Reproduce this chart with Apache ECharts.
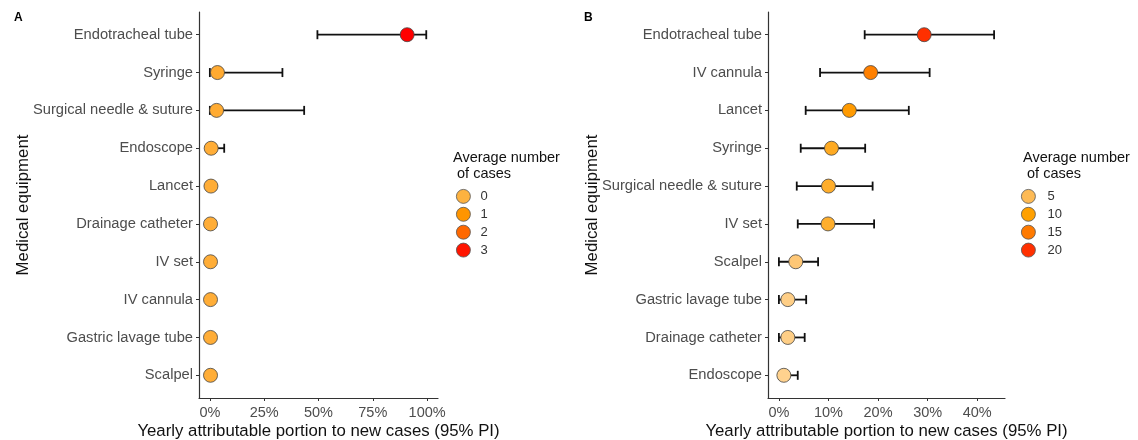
<!DOCTYPE html>
<html><head><meta charset="utf-8">
<script src="https://cdn.jsdelivr.net/npm/echarts@6/dist/echarts.min.js"></script>
<style>html,body{margin:0;padding:0;background:#fff}#c{width:1138px;height:440px}</style>
</head><body><div id="c"></div>
<script>
// Panel A data (percent of yearly new cases, 95% PI; average number of cases)
var catsA = ['Endotracheal tube','Syringe','Surgical needle & suture','Endoscope','Lancet','Drainage catheter','IV set','IV cannula','Gastric lavage tube','Scalpel'];
var estA  = [90.8, 3.5, 3.1, 0.6, 0.5, 0.3, 0.3, 0.3, 0.3, 0.3];
var lowA  = [49.5, 0, 0, 0, 0, 0, 0, 0, 0, 0];
var highA = [99.6, 33.4, 43.4, 6.6, 1.5, 1.0, 1.0, 1.0, 1.0, 0.8];
var casesA = [3.0, 0.12, 0.1, 0.02, 0.02, 0.01, 0.01, 0.01, 0.01, 0.01];
var ticksA = [0, 25, 50, 75, 100];
var legendA = ['0', '1', '2', '3'];

// Panel B data
var catsB = ['Endotracheal tube','IV cannula','Lancet','Syringe','Surgical needle & suture','IV set','Scalpel','Gastric lavage tube','Drainage catheter','Endoscope'];
var estB  = [29.3, 18.5, 14.2, 10.6, 10.0, 9.9, 3.4, 1.8, 1.8, 1.0];
var lowB  = [17.3, 8.3, 5.4, 4.4, 3.6, 3.8, 0, 0, 0, 0];
var highB = [43.4, 30.4, 26.2, 17.4, 18.9, 19.2, 7.9, 5.5, 5.2, 3.8];
var casesB = [22, 14, 10.7, 8, 7.5, 7.4, 2.6, 1.4, 1.4, 0.8];
var ticksB = [0, 10, 20, 30, 40];
var legendB = ['5', '10', '15', '20'];

var FONT = 'Liberation Sans, Arial, Helvetica, sans-serif';
var colorsA = ['#FFAD38', '#FF9400', '#FF6400', '#FF0000'];
var legColorsA = ['#FDB240', '#FF9500', '#FF6800', '#FF1500'];
var colorsB = ['#FFD699', '#FDBA55', '#FFA000', '#FF7800', '#FF3000'];
var legColorsB = ['#FDBA55', '#FFA000', '#FF7A00', '#FF3000'];

function errRender(params, api) {
  var lo = api.coord([api.value(0), api.value(2)]);
  var hi = api.coord([api.value(1), api.value(2)]);
  var h = 4.5;
  var st = {stroke: '#111', lineWidth: 1.8};
  return {type: 'group', children: [
    {type: 'line', shape: {x1: lo[0], y1: lo[1], x2: hi[0], y2: hi[1]}, style: st},
    {type: 'line', shape: {x1: lo[0], y1: lo[1] - h, x2: lo[0], y2: lo[1] + h}, style: st},
    {type: 'line', shape: {x1: hi[0], y1: hi[1] - h, x2: hi[0], y2: hi[1] + h}, style: st}
  ]};
}

function xAxisDef(idx, min, max, ticks) {
  return {
    type: 'value', gridIndex: idx, min: min, max: max,
    name: 'Yearly attributable portion to new cases (95% PI)',
    nameLocation: 'middle', nameGap: 25, nameMoveOverlap: false,
    nameTextStyle: {fontFamily: FONT, fontSize: 16.8, color: '#111'},
    axisLine: {show: true, onZero: false, lineStyle: {color: '#333', width: 1.2}},
    axisTick: {show: true, length: 3, customValues: ticks, lineStyle: {color: '#333'}},
    axisLabel: {customValues: ticks, formatter: function (v) { return v + '%'; },
      fontFamily: FONT, fontSize: 14.5, color: '#4d4d4d', margin: 7},
    splitLine: {show: false}
  };
}
function yAxisDef(idx, cats) {
  var vals = cats.map(function (c, i) { return i + 1; });
  return {
    type: 'value', gridIndex: idx, min: 0.4, max: 10.6, inverse: true,
    name: 'Medical equipment', nameLocation: 'middle', nameGap: 167, nameMoveOverlap: false,
    nameTextStyle: {fontFamily: FONT, fontSize: 16.8, color: '#111'},
    axisLine: {show: true, onZero: false, lineStyle: {color: '#333', width: 1.2}},
    axisTick: {show: true, length: 3, customValues: vals, lineStyle: {color: '#333'}},
    axisLabel: {customValues: vals, formatter: function (v) { return cats[Math.round(v) - 1]; },
      fontFamily: FONT, fontSize: 14.7, color: '#4d4d4d', margin: 6},
    splitLine: {show: false}
  };
}
function legendSeries(names, cols, gi) {
  return names.map(function (n, i) {
    return {type: 'scatter', name: n, xAxisIndex: gi, yAxisIndex: gi, data: [],
      itemStyle: {color: cols[i], borderColor: '#555', borderWidth: 0.8, opacity: 1}};
  });
}

var series = [
  {type: 'custom', xAxisIndex: 0, yAxisIndex: 0, renderItem: errRender, encode: {x: [0, 1], y: 2},
    data: lowA.map(function (l, i) { return [l, highA[i], i + 1]; }), z: 2},
  {type: 'scatter', name: 'pointsA', xAxisIndex: 0, yAxisIndex: 0, symbolSize: 14, z: 3,
    itemStyle: {borderColor: '#444', borderWidth: 0.8, opacity: 1},
    data: estA.map(function (e, i) { return [e, i + 1, casesA[i]]; })},
  {type: 'custom', xAxisIndex: 1, yAxisIndex: 1, renderItem: errRender, encode: {x: [0, 1], y: 2},
    data: lowB.map(function (l, i) { return [l, highB[i], i + 1]; }), z: 2},
  {type: 'scatter', name: 'pointsB', xAxisIndex: 1, yAxisIndex: 1, symbolSize: 14, z: 3,
    itemStyle: {borderColor: '#444', borderWidth: 0.8, opacity: 1},
    data: estB.map(function (e, i) { return [e, i + 1, casesB[i]]; })}
].concat(legendSeries(legendA, legColorsA, 0)).concat(legendSeries(legendB, legColorsB, 1));

var chart = echarts.init(document.getElementById('c'), null, {renderer: 'canvas'});
chart.setOption({
  animation: false,
  backgroundColor: '#fff',
  textStyle: {fontFamily: FONT},
  title: [
    {text: 'A', left: 14, top: 12, padding: 0, textStyle: {fontFamily: FONT, fontSize: 12, fontWeight: 'bold', color: '#000'}},
    {text: 'B', left: 584, top: 12, padding: 0, textStyle: {fontFamily: FONT, fontSize: 12, fontWeight: 'bold', color: '#000'}},
    {text: 'Average number\n of cases', left: 453, top: 150, padding: 0, textStyle: {fontFamily: FONT, fontSize: 14.5, fontWeight: 'normal', lineHeight: 16, color: '#111'}},
    {text: 'Average number\n of cases', left: 1023, top: 150, padding: 0, textStyle: {fontFamily: FONT, fontSize: 14.5, fontWeight: 'normal', lineHeight: 16, color: '#111'}}
  ],
  grid: [
    {left: 199, top: 12, width: 239, height: 386, outerBoundsMode: 'none', containLabel: false},
    {left: 768, top: 12, width: 237, height: 386, outerBoundsMode: 'none', containLabel: false}
  ],
  xAxis: [xAxisDef(0, -5, 105, ticksA), xAxisDef(1, -2.2, 45.6, ticksB)],
  yAxis: [yAxisDef(0, catsA), yAxisDef(1, catsB)],
  visualMap: [
    {type: 'continuous', show: false, seriesIndex: 1, dimension: 2, min: 0, max: 3,
      inRange: {color: colorsA}, outOfRange: {color: '#FF0000'}},
    {type: 'continuous', show: false, seriesIndex: 3, dimension: 2, min: 0, max: 20,
      inRange: {color: colorsB}, outOfRange: {color: '#FF0000'}}
  ],
  legend: [
    {data: legendA, orient: 'vertical', left: 456, top: 189, padding: 0, itemWidth: 24, itemHeight: 14, itemGap: 3.1,
      icon: 'circle', selectedMode: false, itemStyle: {borderWidth: 0.8, borderColor: '#555', opacity: 1},
      textStyle: {fontFamily: FONT, fontSize: 13, color: '#333'}},
    {data: legendB, orient: 'vertical', left: 1021, top: 189, padding: 0, itemWidth: 28, itemHeight: 14, itemGap: 3.1,
      icon: 'circle', selectedMode: false, itemStyle: {borderWidth: 0.8, borderColor: '#555', opacity: 1},
      textStyle: {fontFamily: FONT, fontSize: 13, color: '#333'}}
  ],
  series: series
});
</script></body></html>
